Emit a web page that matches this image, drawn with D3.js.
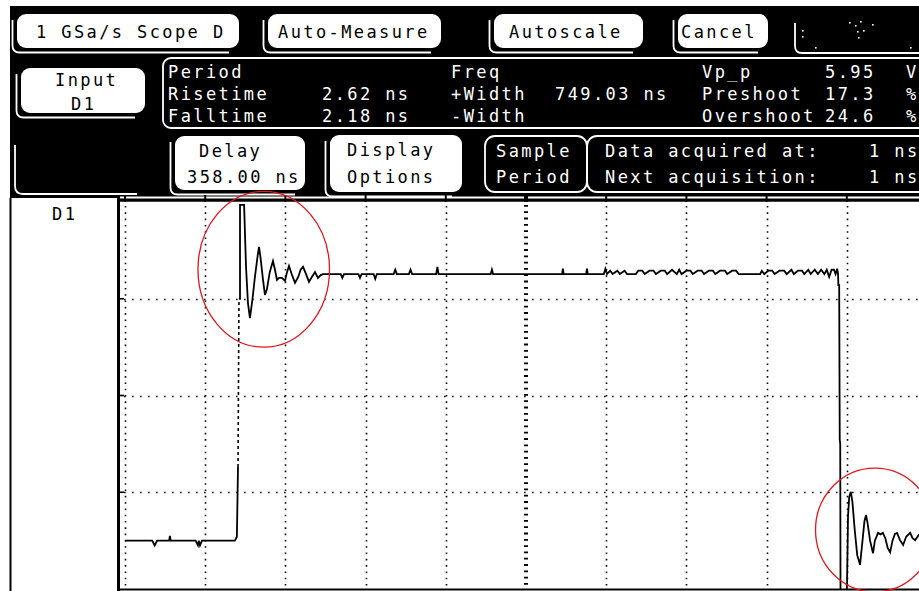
<!DOCTYPE html>
<meta charset="utf-8">
<style>

body {
  margin: 0;
  background: #fff;
}

svg {
  display: block;
}

text {
  font-family: 'DejaVu Sans Mono', monospace;
  font-size: 17px;
  letter-spacing: 2.4px;
}

.key
{
    fill: #fff;
}

.keytext
{
    fill: #000;
}

.hud
{
    fill: #fff;
}

path.shadow, .frame
{
    fill: none;
    stroke: #fff;
    stroke-width: 1.8;
}

.ring
{
    fill: none;
    stroke: #e3161b;
    stroke-width: 1.3;
}

</style>
<body>
<div id='scope'></div>
<script src="https://d3js.org/d3.v7.min.js"></script>
<script>

// time grid (ns) and volt grid, center line = delay
var gridTimes = [-142, -42, 58, 158, 258, 358, 458, 558, 658, 758, 858]
var gridVolts = [1, 3, 5]
var delayTime = 358

// measurement readout
var measureNames  = [['Period', 'Risetime', 'Falltime'], ['Freq', '+Width', '-Width'], ['Vp_p', 'Preshoot', 'Overshoot']]
var measureValues = [['', '2.62 ns', '2.18 ns'], ['', '749.03 ns', ''], ['5.95', '17.3', '24.6']]
var measureUnits  = ['V', '%', '%']

// trace D1, [ns, V]; low part up to the fast edge
var traceLow = [[-142, 0], [-108, 0], [-105, -0.1], [-102, 0], [-87, 0], [-86, 0.1], [-85, 0],
  [-54, 0], [-51, -0.1], [-50, 0], [-48.5, -0.1], [-46, 0], [-5, 0], [-2.5, 0.08], [-1.1, 1.52]]

// from the top of the edge to the right side
var traceHigh = [[0.1, 5.0], [1.4, 5.0], [1.4, 6.94], [6.5, 6.94], [8.9, 5.66], [11.3, 4.91], [13.8, 4.6],
  [17, 5.0], [20, 5.45], [23.5, 5.9], [25.1, 6.07], [27, 5.85], [30, 5.4], [32.5, 5.08], [35, 5.2],
  [38.5, 5.55], [42.5, 5.78], [45, 5.6], [47.5, 5.39], [50, 5.43], [53.7, 5.43], [57.5, 5.37], [60, 5.55],
  [62.5, 5.68], [66, 5.5], [70, 5.33], [74, 5.45], [77, 5.6], [80, 5.66], [84, 5.5], [87.4, 5.35],
  [91, 5.45], [94.9, 5.55], [98.6, 5.43], [102, 5.49], [105, 5.51],
  [127, 5.51], [129, 5.43], [131, 5.51], [149, 5.51], [151, 5.43], [153, 5.51], [168, 5.51], [170, 5.41],
  [172, 5.51], [193, 5.51], [195, 5.6], [197, 5.51], [212, 5.51], [214, 5.6], [216, 5.51], [246, 5.51],
  [247.5, 5.66], [249, 5.51], [314, 5.51], [315.5, 5.6], [317, 5.51], [403, 5.51], [404, 5.62], [405, 5.51],
  [433, 5.51], [434, 5.62], [435, 5.51], [455, 5.51],
  [457, 5.62], [459, 5.51], [463, 5.58], [466, 5.51], [472, 5.58], [475, 5.51], [481, 5.58], [484, 5.51],
  [495, 5.51], [498, 5.58], [503, 5.58], [506, 5.51], [512, 5.58], [517, 5.58], [520, 5.51], [526, 5.58],
  [531, 5.58], [534, 5.51], [540, 5.6], [546, 5.51], [549, 5.6], [552, 5.51], [558, 5.58], [563, 5.58],
  [566, 5.51], [572, 5.58], [577, 5.58], [580, 5.51], [586, 5.58], [591, 5.58], [594, 5.51], [600, 5.58],
  [606, 5.58], [609, 5.51], [615, 5.58], [620, 5.58], [623, 5.51], [629, 5.51], [650, 5.51],
  [652, 5.58], [655, 5.51], [660, 5.58], [665, 5.58], [668, 5.51], [674, 5.58], [680, 5.58], [683, 5.51],
  [689, 5.6], [692, 5.51], [697, 5.58], [702, 5.58], [705, 5.51], [710, 5.6], [713, 5.51], [718, 5.6],
  [722, 5.51], [726, 5.6], [730, 5.51], [733, 5.6], [736, 5.45], [739, 5.6], [742, 5.6], [744, 5.51],
  [746, 5.62], [747.1, 5.51], [747.5, 5.28], [748.5, 5.28], [749.2, 2.08], [749.8, 2.0], [750.2, -1.4],
  [757, -1.4], [758.3, -0.9], [759.5, 0.5], [761, 0.9], [763, 1.01], [765, 0.8], [768, 0.2], [771, -0.3],
  [774.5, -0.5], [777, -0.1], [780, 0.4], [782, 0.53], [784, 0.35], [787, 0.0], [790.7, -0.26], [793, 0.0],
  [797, 0.16], [800, 0.13], [803, 0.16], [806, 0.05], [809, -0.15], [812, -0.24], [815, 0.0], [818, 0.14],
  [820.7, 0.16], [824, 0.02], [828.2, -0.09], [832, 0.08], [837, 0.16], [840, 0.05], [843.2, 0.01],
  [848, 0.12], [858, 0.1]]

// red hand drawn circles, centre [ns, V], radius in ns and V
var rings = [{t: 31, v: 5.61, rt: 82, rv: 1.61}, {t: 793, v: 0.22, rt: 74, rv: 1.28}]

var svg = d3.select('#scope')
            .append('svg')
            .attr('width', 919)
            .attr('height', 591)

var x = d3.scaleLinear().domain([-142, 858]).range([125, 927])
var y = d3.scaleLinear().domain([-1, 7]).range([589, 202])

// header
svg.append('rect')
   .attr('x', 10).attr('y', 6)
   .attr('width', 909).attr('height', 195)
   .attr('fill', '#000')

function shadow(bx, by, bw, bh, o)
{
  var L = bx - o, B = by + bh + o
  return 'M' + L + ',' + (by + 6) + ' V' + (B - 7) + ' Q' + L + ',' + B + ' ' + (L + 7) + ',' + B + ' H' + (bx + bw - 10)
}

var keys = [
  {x: 17,  y: 14,  w: 222, h: 34, lines: [['1 GSa/s Scope D', 36, 38]]},
  {x: 268, y: 14,  w: 173, h: 34, lines: [['Auto-Measure', 278, 38]]},
  {x: 494, y: 14,  w: 149, h: 34, lines: [['Autoscale', 509, 38]]},
  {x: 678, y: 14,  w: 90,  h: 34, lines: [['Cancel', 681, 38]]},
  {x: 21,  y: 68,  w: 124, h: 45, lines: [['Input', 55, 86], ['D1', 71, 110]]},
  {x: 175, y: 136, w: 130, h: 54, lines: [['Delay', 199, 157], ['358.00 ns', 187, 183]]},
  {x: 330, y: 135, w: 132, h: 57, lines: [['Display', 347, 156], ['Options', 347, 183]]}
]

keys.forEach(function(k){
  svg.append('path')
     .classed('shadow', true)
     .attr('d', shadow(k.x, k.y, k.w, k.h, 4.5))
  svg.append('rect')
     .classed('key', true)
     .attr('x', k.x).attr('y', k.y)
     .attr('width', k.w).attr('height', k.h)
     .attr('rx', 9)
  k.lines.forEach(function(l){
    svg.append('text')
       .classed('keytext', true)
       .attr('x', l[1]).attr('y', l[2])
       .text(l[0])
  })
})

// empty keys, only the shadow bracket is left
svg.append('path').classed('shadow', true).attr('d', 'M795,23 V46 Q795,53 802,53 H919')
svg.append('path').classed('shadow', true).attr('d', 'M15,145 V186 Q15,194 23,194 H137')

var ghostDots = [[802, 30], [802, 36], [815, 47], [849, 22], [855, 25], [860, 21], [857, 31], [863, 30],
  [858, 37], [872, 24], [910, 47]]
svg.selectAll('.ghost')
   .data(ghostDots)
   .enter().append('rect')
   .attr('x', function(d){ return d[0] })
   .attr('y', function(d){ return d[1] })
   .attr('width', 1.6).attr('height', 1.6)
   .attr('fill', '#fff')

// measurement panel
svg.append('rect')
   .classed('frame', true)
   .attr('x', 163).attr('y', 58)
   .attr('width', 800).attr('height', 70)
   .attr('rx', 8)

var colX = [168, 451, 702]
var valX = [322, 555, 825]
var rowY = [78, 100, 122]
for (var c = 0; c < 3; c++)
{
  for (var r = 0; r < 3; r++)
  {
    svg.append('text').classed('hud', true)
       .attr('x', colX[c]).attr('y', rowY[r])
       .text(measureNames[c][r])
    svg.append('text').classed('hud', true)
       .attr('x', valX[c]).attr('y', rowY[r])
       .text(measureValues[c][r])
  }
}
measureUnits.forEach(function(u, i){
  svg.append('text').classed('hud', true)
     .attr('x', 906).attr('y', rowY[i])
     .text(u)
})

// sample period boxes
svg.append('rect').classed('frame', true)
   .attr('x', 485).attr('y', 136).attr('width', 102).attr('height', 56).attr('rx', 10)
svg.append('rect').classed('frame', true)
   .attr('x', 587).attr('y', 136).attr('width', 360).attr('height', 56).attr('rx', 10)

var sampleText = [['Sample', 496, 157], ['Period', 496, 183], ['Data acquired at:', 605, 157],
  ['Next acquisition:', 605, 183], ['1 ns', 869, 157], ['1 ns', 869, 183]]
sampleText.forEach(function(s){
  svg.append('text').classed('hud', true)
     .attr('x', s[1]).attr('y', s[2])
     .text(s[0])
})

// white rule under the keys, plot top border with ticks
svg.append('line')
   .attr('x1', 120).attr('x2', 919)
   .attr('y1', 197.5).attr('y2', 197.5)
   .attr('stroke', '#fff').attr('stroke-width', 2)

// left label panel
svg.append('rect')
   .attr('x', 11).attr('y', 198)
   .attr('width', 106).attr('height', 393)
   .attr('fill', '#fff')
svg.append('line')
   .attr('x1', 10.5).attr('x2', 10.5)
   .attr('y1', 198).attr('y2', 591)
   .attr('stroke', '#000').attr('stroke-width', 2)
svg.append('text')
   .attr('x', 52).attr('y', 220)
   .attr('fill', '#000')
   .text('D1')

// plot area
svg.append('rect')
   .attr('x', 120).attr('y', 202)
   .attr('width', 799).attr('height', 389)
   .attr('fill', '#fff')

svg.append('defs')
   .append('clipPath')
   .attr('id', 'plotclip')
   .append('rect')
   .attr('x', 120).attr('y', 202)
   .attr('width', 799).attr('height', 387)

var grid = svg.append('g')

grid.selectAll('.vgrid')
    .data(gridTimes.filter(function(t){ return t != delayTime }))
    .enter().append('line')
    .attr('x1', function(d){ return Math.round(x(d)) + 0.5 })
    .attr('x2', function(d){ return Math.round(x(d)) + 0.5 })
    .attr('y1', 206).attr('y2', 589)
    .attr('stroke', '#000')
    .attr('stroke-width', 1.6)
    .attr('stroke-dasharray', '1.6,4.7')

grid.selectAll('.hgrid')
    .data(gridVolts)
    .enter().append('line')
    .attr('x1', 124).attr('x2', 919)
    .attr('y1', function(d){ return Math.round(y(d)) + 0.5 })
    .attr('y2', function(d){ return Math.round(y(d)) + 0.5 })
    .attr('stroke', '#000')
    .attr('stroke-width', 1.6)
    .attr('stroke-dasharray', '1.6,6.4')

grid.append('line')
    .attr('x1', x(delayTime)).attr('x2', x(delayTime))
    .attr('y1', 205).attr('y2', 589)
    .attr('stroke', '#000')
    .attr('stroke-width', 4)
    .attr('stroke-dasharray', '1.8,4.5')

// ticks on top border
grid.selectAll('.ttick')
    .data(gridTimes)
    .enter().append('line')
    .attr('x1', function(d){ return x(d) }).attr('x2', function(d){ return x(d) })
    .attr('y1', 195).attr('y2', 202)
    .attr('stroke', '#000')
    .attr('stroke-width', function(d){ return d == delayTime ? 4 : 2 })

// ticks on left border
grid.selectAll('.vtick')
    .data(gridVolts)
    .enter().append('line')
    .attr('x1', 118).attr('x2', 124)
    .attr('y1', function(d){ return y(d) }).attr('y2', function(d){ return y(d) })
    .attr('stroke', '#000')
    .attr('stroke-width', 1.6)

// borders
svg.append('line')
   .attr('x1', 118.5).attr('x2', 118.5)
   .attr('y1', 198).attr('y2', 591)
   .attr('stroke', '#000').attr('stroke-width', 3)
svg.append('line')
   .attr('x1', 118).attr('x2', 919)
   .attr('y1', 201).attr('y2', 201)
   .attr('stroke', '#000').attr('stroke-width', 1.5)
svg.append('line')
   .attr('x1', 118).attr('x2', 919)
   .attr('y1', 589.5).attr('y2', 589.5)
   .attr('stroke', '#000').attr('stroke-width', 2)

// trace
var line = d3.line()
  .x(function(d){ return x(d[0]) })
  .y(function(d){ return y(d[1]) })

var trace = svg.append('g').attr('clip-path', 'url(#plotclip)')

trace.append('path')
     .datum(traceLow)
     .attr('d', line)
     .attr('fill', 'none').attr('stroke', '#000').attr('stroke-width', 1.8)

trace.append('path')
     .datum([traceLow[traceLow.length - 1], traceHigh[0]])
     .attr('d', line)
     .attr('fill', 'none').attr('stroke', '#000').attr('stroke-width', 1.6)
     .attr('stroke-dasharray', '3,3')

trace.append('path')
     .datum(traceHigh)
     .attr('d', line)
     .attr('fill', 'none').attr('stroke', '#000').attr('stroke-width', 1.8)
     .attr('stroke-linejoin', 'miter')

// red rings
svg.selectAll('.ring')
   .data(rings)
   .enter().append('ellipse')
   .classed('ring', true)
   .attr('cx', function(d){ return x(d.t) })
   .attr('cy', function(d){ return y(d.v) })
   .attr('rx', function(d){ return x(d.t + d.rt) - x(d.t) })
   .attr('ry', function(d){ return y(d.v) - y(d.v + d.rv) })

</script>
</body>
